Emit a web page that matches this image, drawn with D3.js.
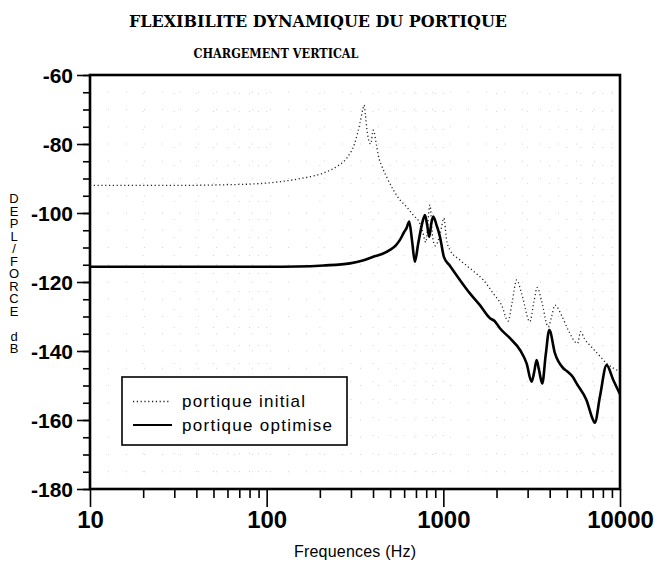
<!DOCTYPE html>
<html>
<head>
<meta charset="utf-8">
<script src="https://cdn.jsdelivr.net/npm/d3@7"></script>
<style>
  html, body { margin: 0; padding: 0; background: #fff; }
  svg { display: block; }
</style>
</head>
<body>
<svg id="chart" width="655" height="564"></svg>
<script>
// Frequency response of the frame: displacement / force in dB vs frequency (Hz)
const freqTicks = [10, 100, 1000, 10000];
const dbTicks = [-60, -80, -100, -120, -140, -160, -180];

const initialFreq = [10, 30, 60, 90, 120, 160, 210, 250, 285, 315, 337, 350, 356, 362, 372, 388, 401, 419, 428, 450, 477, 521, 568, 619, 676, 736, 765, 795, 840, 870, 900, 960, 1007, 1043, 1089, 1241, 1476, 1683, 1916, 2136, 2328, 2450, 2600, 2780, 3090, 3250, 3400, 3600, 3926, 4100, 4285, 4700, 5100, 5750, 5980, 6300, 6800, 7700, 8400, 9200, 10000];
const initialDb = [-92, -92, -91.8, -91.5, -90.9, -89.9, -88.4, -86.5, -84, -79.8, -74, -70, -68.7, -71.5, -77, -80, -76, -80.5, -83.2, -86.6, -89.5, -93.3, -96.2, -98.2, -100.6, -103, -105.5, -108.5, -97.7, -107, -109.5, -106, -101.5, -107.8, -110.7, -113.6, -116.8, -119.4, -123.3, -126.7, -131.3, -126, -119.4, -123.5, -131.5, -126, -121.6, -125.5, -133, -130, -126.7, -130, -134, -137.8, -134.4, -136.5, -138.5, -141.5, -143.6, -145, -146];

const optimFreq = [10, 50, 100, 150, 210, 296, 350, 401, 450, 499, 540, 568, 600, 619, 641, 665, 690, 720, 755, 787, 810, 832, 855, 877, 915, 957, 977, 1007, 1089, 1241, 1414, 1610, 1837, 1950, 2090, 2383, 2716, 2960, 3160, 3270, 3373, 3480, 3630, 3800, 3980, 4285, 4775, 5000, 5420, 5677, 6457, 7043, 7200, 7700, 8400, 9160, 10000];
const optimDb = [-115.6, -115.6, -115.6, -115.5, -115.2, -114.6, -113.8, -112.7, -111.9, -110.7, -109.3, -107.8, -105.5, -104.4, -102.5, -108, -114.1, -109, -103.5, -100.6, -103.5, -106.9, -103, -101, -103.5, -106.9, -109.3, -112.7, -115.3, -119.4, -123.3, -126.7, -130.5, -131.3, -133.4, -136.3, -139.7, -143.6, -148.9, -146, -142.6, -145.5, -149.4, -141, -133.9, -140.7, -145, -145.8, -147.6, -149.4, -154.2, -160, -160.8, -153.2, -144.1, -148.4, -152.5];

const seriesNames = ["portique initial", "portique optimise"];

const svg = d3.select("#chart");
const plotLeft = 90, plotRight = 620, plotTop = 75, plotBottom = 489;

const x = d3.scaleLog().domain([10, 10000]).range([plotLeft, plotRight]);
const y = d3.scaleLinear().domain([-180, -60]).range([plotBottom, plotTop]);

// faint dotted grid
const minorFreq = [];
[10, 100, 1000].forEach(d => { for (let k = 2; k <= 9; k++) minorFreq.push(d * k); });
const minorDb = d3.range(-175, -60, 5);
const grid = svg.append("g").attr("stroke", "#9a9a9a").attr("stroke-width", 1)
  .attr("stroke-dasharray", "1,17").attr("opacity", 0.4);
grid.selectAll("line.v").data(minorFreq.concat([100, 1000])).join("line")
  .attr("x1", d => x(d)).attr("x2", d => x(d)).attr("y1", plotTop).attr("y2", plotBottom);
grid.selectAll("line.h").data(minorDb).join("line")
  .attr("y1", d => y(d)).attr("y2", d => y(d)).attr("x1", plotLeft).attr("x2", plotRight);

// axes
const plainNumber = d => String(d);
const yAxis = d3.axisLeft(y).tickValues(dbTicks).tickSize(13).tickPadding(4).tickFormat(plainNumber);
const yMinor = d3.axisLeft(y).tickValues(d3.range(-180, -59, 5)).tickSize(7).tickFormat("");
const xAxis = d3.axisBottom(x).tickValues(freqTicks).tickSize(18).tickPadding(4).tickFormat(plainNumber);
const xMinor = d3.axisBottom(x).tickValues(minorFreq).tickSize(9).tickFormat("");

function styleAxis(g) {
  g.select(".domain").remove();
  g.selectAll(".tick line").attr("stroke", "#000").attr("stroke-width", 1.6);
  g.selectAll("text").attr("fill", "#000")
    .attr("font-family", "'Liberation Sans', Arial, sans-serif").attr("font-weight", "bold");
}

svg.append("g").attr("transform", `translate(${plotLeft},0)`).call(yMinor).call(styleAxis);
svg.append("g").attr("transform", `translate(${plotLeft},0)`).call(yAxis).call(styleAxis)
  .selectAll("text").attr("font-size", 21).attr("dy", "0.36em");
svg.append("g").attr("transform", `translate(0,${plotBottom})`).call(xMinor).call(styleAxis);
svg.append("g").attr("transform", `translate(0,${plotBottom})`).call(xAxis).call(styleAxis)
  .selectAll("text").attr("font-size", 24);

// frame
svg.append("rect").attr("x", plotLeft).attr("y", plotTop)
  .attr("width", plotRight - plotLeft).attr("height", plotBottom - plotTop)
  .attr("fill", "none").attr("stroke", "#000").attr("stroke-width", 2.6);

// curves
const line = d3.line().x(d => x(d[0])).y(d => y(d[1])).curve(d3.curveMonotoneX);
const initialData = initialFreq.map((f, i) => [f, initialDb[i]]);
const optimData = optimFreq.map((f, i) => [f, optimDb[i]]);

svg.append("path").datum(initialData).attr("d", line)
  .attr("fill", "none").attr("stroke", "#222").attr("stroke-width", 1.3)
  .attr("stroke-dasharray", "1.2,2.6");
svg.append("path").datum(optimData).attr("d", line)
  .attr("fill", "none").attr("stroke", "#000").attr("stroke-width", 2.6)
  .attr("stroke-linejoin", "round");

// legend
const lg = svg.append("g");
lg.append("rect").attr("x", 122).attr("y", 377).attr("width", 225).attr("height", 68)
  .attr("fill", "#fff").attr("stroke", "#000").attr("stroke-width", 1.6);
lg.append("line").attr("x1", 133).attr("x2", 171).attr("y1", 401.5).attr("y2", 401.5)
  .attr("stroke", "#222").attr("stroke-width", 1.3).attr("stroke-dasharray", "1.2,2.6");
lg.append("line").attr("x1", 133).attr("x2", 172).attr("y1", 425).attr("y2", 425)
  .attr("stroke", "#000").attr("stroke-width", 2);
lg.selectAll("text").data(seriesNames).join("text")
  .attr("x", 182).attr("y", (d, i) => 407 + i * 23.5)
  .attr("font-family", "'Liberation Sans', Arial, sans-serif").attr("font-size", 17)
  .attr("textLength", (d, i) => i === 0 ? 123 : 150).attr("lengthAdjust", "spacing")
  .text(d => d);

// titles
svg.append("text").attr("x", 318).attr("y", 27).attr("text-anchor", "middle")
  .attr("font-family", "'DejaVu Serif', 'Liberation Serif', serif").attr("font-weight", "bold")
  .attr("font-size", 16).attr("textLength", 378).attr("lengthAdjust", "spacingAndGlyphs")
  .text("FLEXIBILITE DYNAMIQUE DU PORTIQUE");
svg.append("text").attr("x", 276).attr("y", 58).attr("text-anchor", "middle")
  .attr("font-family", "'DejaVu Serif', 'Liberation Serif', serif").attr("font-weight", "bold")
  .attr("font-size", 12.5).attr("textLength", 165).attr("lengthAdjust", "spacingAndGlyphs")
  .text("CHARGEMENT VERTICAL");

// axis titles
svg.append("text").attr("x", 355).attr("y", 557).attr("text-anchor", "middle")
  .attr("font-family", "'Liberation Sans', Arial, sans-serif").attr("font-size", 16)
  .attr("textLength", 122).attr("lengthAdjust", "spacing")
  .text("Frequences (Hz)");

// stacked, upright vertical title on the left
svg.append("text").attr("x", 14).attr("y", 191)
  .style("writing-mode", "vertical-rl").style("text-orientation", "upright")
  .attr("font-family", "'Liberation Sans', Arial, sans-serif").attr("font-size", 13)
  .attr("textLength", 165).attr("lengthAdjust", "spacing")
  .text("DEPL/FORCE dB");
</script>
</body>
</html>
